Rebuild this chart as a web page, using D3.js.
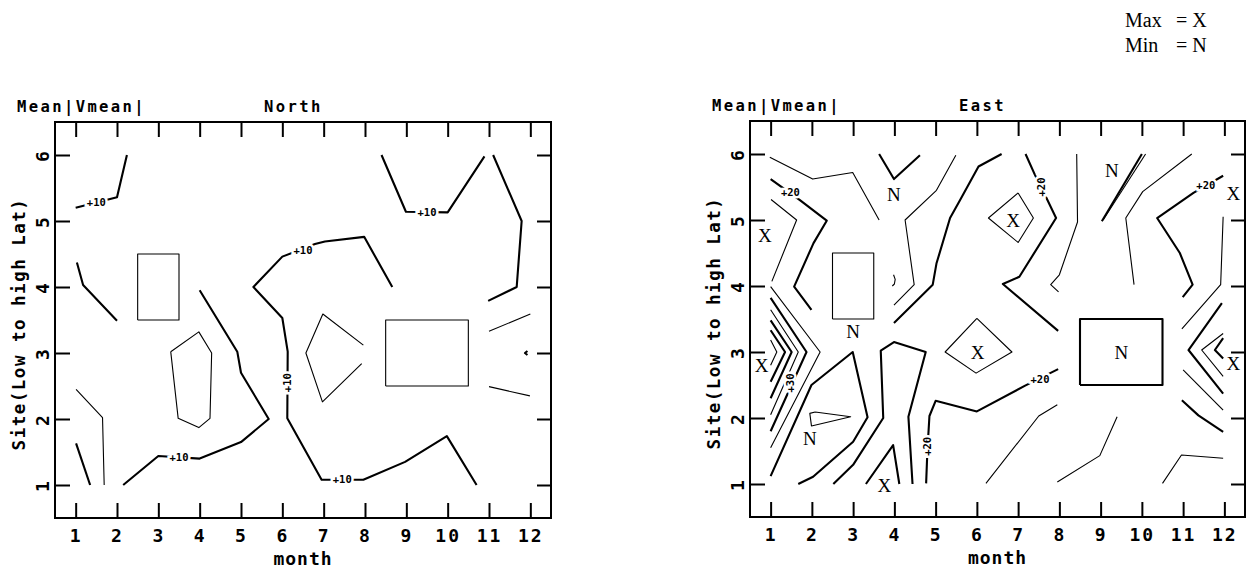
<!DOCTYPE html>
<html>
<head>
<meta charset="utf-8">
<script src="https://cdn.jsdelivr.net/npm/d3@7"></script>
<style>
  body { margin: 0; background: #fff; }
  text { fill: #000; }
</style>
</head>
<body>
<svg id="chart" width="1247" height="572"></svg>
<script>
// axis ticks
const months = d3.range(1, 13);
const sites = d3.range(1, 7);

// contour lines in [month, site]; levels on a multiple of 10 are the bold ones
const northLines = [
  { level: 10, pts: [[1.0, 5.2], [2.0, 5.36], [2.24, 6.0]] },
  { level: 10, pts: [[1.03, 4.37], [1.18, 4.03], [2.0, 3.49]] },
  { level: 5, pts: [[2.5, 3.5], [3.5, 3.5], [3.5, 4.5], [2.5, 4.5], [2.5, 3.5]] },
  { level: 10, pts: [[4.0, 3.95], [4.91, 3.02], [5.0, 2.7], [5.67, 2.0], [5.0, 1.65], [4.0, 1.4], [3.0, 1.44], [2.15, 1.0]] },
  { level: 5, pts: [[3.3, 3.02], [3.98, 3.32], [4.29, 3.0], [4.25, 2.01], [3.98, 1.87], [3.48, 2.01], [3.3, 3.02]] },
  { level: 5, pts: [[1.01, 2.45], [1.65, 2.02], [1.69, 1.0]] },
  { level: 10, pts: [[1.01, 1.63], [1.35, 1.0]] },
  { level: 10, pts: [[8.66, 4.0], [7.98, 4.76], [7.03, 4.69], [6.79, 4.65], [6.0, 4.46], [5.3, 4.0], [6.0, 3.53], [6.13, 3.02], [6.12, 2.01], [6.95, 1.08], [7.96, 1.08], [8.97, 1.35], [9.98, 1.74], [10.7, 1.0]] },
  { level: 5, pts: [[7.96, 3.12], [6.98, 3.59], [6.57, 3.0], [6.97, 2.26], [7.92, 2.84]] },
  { level: 5, pts: [[8.5, 2.5], [10.5, 2.5], [10.5, 3.5], [8.5, 3.5], [8.5, 2.5]] },
  { level: 10, pts: [[8.4, 6.0], [8.99, 5.14], [10.0, 5.13], [10.89, 5.98]] },
  { level: 10, pts: [[11.1, 6.0], [11.79, 5.0], [11.67, 4.0], [10.98, 3.79]] },
  { level: 5, pts: [[11.0, 3.33], [12.0, 3.59]] },
  { level: 5, pts: [[11.0, 2.49], [11.99, 2.35]] },
  { level: 10, pts: [[11.93, 3.03], [11.87, 3.0], [11.93, 2.97]] }
];
const northLabels = [
  { m: 1.5, s: 5.28, text: "+10", vertical: false },
  { m: 3.5, s: 1.42, text: "+10", vertical: false },
  { m: 6.5, s: 4.56, text: "+10", vertical: false },
  { m: 6.12, s: 2.55, text: "+10", vertical: true },
  { m: 7.45, s: 1.08, text: "+10", vertical: false },
  { m: 9.5, s: 5.13, text: "+10", vertical: false }
];
const northMarks = [];

const eastLines = [
  { level: 15, pts: [[0.98, 5.95], [2.02, 5.62], [2.99, 5.72], [3.63, 5.0]] },
  { level: 10, pts: [[3.63, 6.0], [3.99, 5.62], [4.62, 5.98]] },
  { level: 20, pts: [[1.0, 5.62], [1.71, 5.3], [2.36, 4.99], [2.04, 4.65], [1.57, 3.99], [1.99, 3.64]] },
  { level: 25, pts: [[1.01, 5.31], [1.63, 5.0], [1.03, 4.07]] },
  { level: 15, pts: [[2.5, 3.5], [3.5, 3.5], [3.5, 4.5], [2.5, 4.5], [2.5, 3.5]] },
  { level: 15, pts: [[3.98, 4.17], [4.02, 4.1], [4.0, 4.03], [3.95, 4.0]] },
  { level: 15, pts: [[5.49, 5.98], [5.02, 5.45], [4.26, 5.0], [4.48, 4.02], [3.99, 3.71]] },
  { level: 20, pts: [[6.6, 6.0], [6.04, 5.81], [5.59, 5.3], [5.35, 5.03], [5.02, 4.34], [4.93, 4.02], [3.99, 3.44]] },
  { level: 25, pts: [[7.0, 5.41], [7.37, 5.03], [7.0, 4.66], [6.28, 5.03], [7.0, 5.41]] },
  { level: 20, pts: [[7.18, 6.0], [7.41, 5.68], [7.69, 5.33], [7.92, 5.03], [7.03, 4.14], [6.63, 4.03], [7.97, 3.32]] },
  { level: 15, pts: [[8.42, 6.0], [8.44, 4.97], [8.0, 4.17], [7.79, 4.02], [7.98, 3.91]] },
  { level: 10, pts: [[9.03, 4.98], [10.0, 6.0]] },
  { level: 5, pts: [[9.06, 5.0], [10.09, 6.0]] },
  { level: 15, pts: [[11.21, 6.0], [10.02, 5.43], [9.61, 5.03], [9.81, 4.02]] },
  { level: 20, pts: [[11.97, 5.67], [11.25, 5.41], [10.37, 5.03], [10.92, 4.5], [11.23, 4.02], [10.99, 3.83]] },
  { level: 15, pts: [[11.97, 5.05], [11.91, 4.02], [10.97, 3.35]] },
  { level: 20, pts: [[11.94, 3.74], [11.13, 3.03], [11.97, 2.37]] },
  { level: 15, pts: [[11.97, 3.28], [11.45, 3.03], [11.97, 2.63]] },
  { level: 20, pts: [[11.97, 3.21], [11.77, 3.03], [11.97, 2.9]] },
  { level: 15, pts: [[11.0, 2.73], [11.97, 2.12]] },
  { level: 10, pts: [[10.97, 2.27], [11.37, 2.04], [11.97, 1.79]] },
  { level: 15, pts: [[10.5, 1.01], [10.96, 1.44], [11.97, 1.39]] },
  { level: 10, pts: [[8.5, 2.5], [10.5, 2.5], [10.5, 3.5], [8.5, 3.5], [8.5, 2.5]] },
  { level: 15, pts: [[7.95, 1.03], [8.98, 1.43], [9.4, 2.02]] },
  { level: 15, pts: [[6.22, 1.01], [7.5, 2.03], [7.95, 2.2]] },
  { level: 20, pts: [[4.77, 1.01], [4.8, 1.5], [4.85, 2.03], [5.0, 2.26], [6.0, 2.1], [7.17, 2.49], [7.97, 2.74]] },
  { level: 25, pts: [[6.0, 3.51], [6.85, 3.0], [5.98, 2.68], [5.23, 3.0], [6.0, 3.51]] },
  { level: 20, pts: [[2.52, 1.0], [3.0, 1.29], [3.73, 2.0], [3.67, 3.02], [3.99, 3.15], [4.76, 3.0], [4.34, 2.02], [4.44, 1.0]] },
  { level: 20, pts: [[3.31, 1.0], [3.97, 1.59], [4.12, 1.0]] },
  { level: 20, pts: [[1.0, 1.12], [1.99, 2.5], [2.99, 3.0], [3.35, 2.01], [3.0, 1.64], [2.03, 1.11], [1.67, 1.0]] },
  { level: 15, pts: [[2.08, 2.09], [1.95, 2.07], [1.99, 1.88], [2.94, 2.02], [2.08, 2.09]] },
  { level: 35, pts: [[1.0, 3.18], [1.15, 3.0], [1.0, 2.8]] },
  { level: 30, pts: [[1.0, 3.33], [1.35, 3.0], [1.0, 2.55]] },
  { level: 30, pts: [[1.0, 3.48], [1.51, 3.0], [1.0, 2.3]] },
  { level: 25, pts: [[1.0, 3.64], [1.67, 3.0], [1.0, 2.05]] },
  { level: 30, pts: [[1.0, 3.82], [1.87, 3.0], [1.0, 1.8]] },
  { level: 25, pts: [[1.0, 3.99], [2.2, 3.0], [1.0, 1.55]] }
];
const eastLabels = [
  { m: 1.48, s: 5.42, text: "+20", vertical: false },
  { m: 7.55, s: 5.5, text: "+20", vertical: true },
  { m: 11.55, s: 5.53, text: "+20", vertical: false },
  { m: 1.47, s: 2.53, text: "+30", vertical: true },
  { m: 4.8, s: 1.57, text: "+20", vertical: true },
  { m: 7.53, s: 2.59, text: "+20", vertical: false }
];
const eastMarks = [
  [0.86, 4.77, "X"], [3.99, 5.39, "N"], [3.0, 3.31, "N"], [6.88, 5.0, "X"],
  [9.27, 5.76, "N"], [12.22, 5.4, "X"], [0.78, 2.8, "X"], [1.95, 1.69, "N"],
  [3.76, 0.99, "X"], [9.5, 3.0, "N"], [6.02, 3.0, "X"], [12.22, 2.83, "X"]
];

const svg = d3.select("#chart");
const mono = "'DejaVu Sans Mono', monospace";

function drawPanel(left, right, top, bottom, title, lines, labels, marks) {
  const x = d3.scaleLinear().domain([0.5, 12.5]).range([left, right]);
  const y = d3.scaleLinear().domain([0.5, 6.5]).range([bottom, top]);
  const g = svg.append("g");

  // axes with inward ticks on all four sides
  g.append("g").attr("transform", `translate(0,${bottom})`)
    .call(d3.axisBottom(x).tickValues(months).tickSize(-15).tickPadding(11));
  g.append("g").attr("transform", `translate(0,${top})`)
    .call(d3.axisTop(x).tickValues(months).tickSize(-15).tickFormat(""));
  const axY = g.append("g").attr("transform", `translate(${left},0)`)
    .call(d3.axisLeft(y).tickValues(sites).tickSize(-15).tickFormat(d3.format("d")));
  g.append("g").attr("transform", `translate(${right},0)`)
    .call(d3.axisRight(y).tickValues(sites).tickSize(-14).tickFormat(""));
  g.selectAll(".domain").remove();
  g.selectAll(".tick line").attr("stroke", "#000").attr("stroke-width", 2);
  g.selectAll(".tick text").style("font-family", mono).style("font-weight", "bold")
    .style("font-size", "18px").style("letter-spacing", "2px").attr("fill", "#000");
  axY.selectAll(".tick text")
    .attr("transform", "rotate(-90)")
    .attr("x", 0).attr("y", -6).attr("dy", 0)
    .attr("text-anchor", "middle");

  g.append("rect")
    .attr("x", left).attr("y", top)
    .attr("width", right - left).attr("height", bottom - top)
    .attr("fill", "none").attr("stroke", "#000").attr("stroke-width", 2);

  // titles
  g.append("text").attr("x", left - 38).attr("y", top - 10)
    .text("Mean|Vmean|")
    .style("font-family", mono).style("font-weight", "bold")
    .style("font-size", "15.5px").style("letter-spacing", "2.4px");
  g.append("text").attr("x", left + 209).attr("y", top - 10)
    .text(title)
    .style("font-family", mono).style("font-weight", "bold")
    .style("font-size", "15.5px").style("letter-spacing", "2.4px");

  // axis titles
  g.append("text").attr("x", (left + right) / 2).attr("y", bottom + 47)
    .attr("text-anchor", "middle").text("month")
    .style("font-family", mono).style("font-weight", "bold")
    .style("font-size", "18px").style("letter-spacing", "1px");
  g.append("text")
    .attr("transform", `translate(${left - 30},${(top + bottom) / 2 + 4}) rotate(-90)`)
    .attr("text-anchor", "middle").text("Site(Low to high Lat)")
    .style("font-family", mono).style("font-weight", "bold")
    .style("font-size", "17.5px").style("letter-spacing", "1.5px");

  // contours
  const line = d3.line().x(d => x(d[0])).y(d => y(d[1]));
  g.append("g").selectAll("path")
    .data(lines)
    .join("path")
    .attr("d", d => line(d.pts))
    .attr("fill", "none")
    .attr("stroke", "#000")
    .attr("stroke-linejoin", "round")
    .attr("stroke-width", d => d.level % 10 === 0 ? 2.1 : 1.1);

  // contour labels, knocked out of the line with a white halo
  g.append("g").selectAll("text")
    .data(labels)
    .join("text")
    .attr("transform", d => `translate(${x(d.m)},${y(d.s)})` + (d.vertical ? " rotate(-90)" : ""))
    .attr("text-anchor", "middle")
    .attr("dy", "0.35em")
    .text(d => d.text)
    .style("font-family", mono).style("font-weight", "bold")
    .style("font-size", "10.5px")
    .attr("stroke", "#fff").attr("stroke-width", 5)
    .style("paint-order", "stroke");

  // max / min markers
  g.append("g").selectAll("text")
    .data(marks)
    .join("text")
    .attr("x", d => x(d[0]))
    .attr("y", d => y(d[1]))
    .attr("dy", "0.36em")
    .attr("text-anchor", "middle")
    .text(d => d[2])
    .style("font-family", "'Liberation Serif', serif")
    .style("font-size", "19px");
}

drawPanel(55, 551, 122, 518, "North", northLines, northLabels, northMarks);
drawPanel(750, 1245, 121, 517, "East", eastLines, eastLabels, eastMarks);

// key for the markers
const legend = svg.append("g").style("font-family", "'Liberation Serif', serif").style("font-size", "20px");
legend.append("text").attr("x", 1125).attr("y", 27).text("Max");
legend.append("text").attr("x", 1176).attr("y", 27).text("= X");
legend.append("text").attr("x", 1125).attr("y", 52).text("Min");
legend.append("text").attr("x", 1176).attr("y", 52).text("= N");
</script>
</body>
</html>
